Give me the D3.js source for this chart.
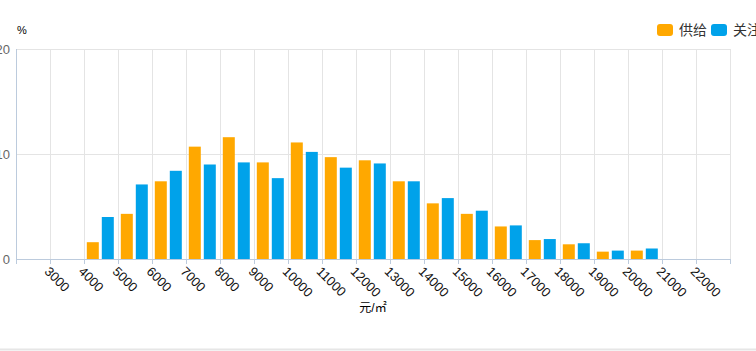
<!DOCTYPE html>
<html>
<head>
<meta charset="utf-8">
<script src="https://cdn.jsdelivr.net/npm/d3@7/dist/d3.min.js"></script>
<style>
  body { margin: 0; background: #fff; }
  svg { display: block; font-family: "Liberation Sans", "Noto Sans CJK SC", sans-serif; }
</style>
</head>
<body>
<div id="chart"></div>
<script>
// price bands (元/㎡); first band has no label
var categories = ["", "3000", "4000", "5000", "6000", "7000", "8000", "9000", "10000", "11000",
    "12000", "13000", "14000", "15000", "16000", "17000", "18000", "19000", "20000", "21000", "22000"];
var supply = [0, 0, 1.6, 4.3, 7.4, 10.7, 11.6, 9.2, 11.1, 9.7,
    9.4, 7.4, 5.3, 4.3, 3.1, 1.8, 1.4, 0.7, 0.8, 0, 0];
var attention = [0, 0, 4.0, 7.1, 8.4, 9.0, 9.2, 7.7, 10.2, 8.7,
    9.1, 7.4, 5.8, 4.6, 3.2, 1.9, 1.5, 0.8, 1.0, 0, 0];
var yTicks = [0, 10, 20];
var seriesNames = ["供给", "关注"];
var colors = ["#ffa800", "#00a2ea"];

var width = 756, height = 351;
var plotLeft = 16, plotRight = 730, plotTop = 49, plotBottom = 259;

var svg = d3.select("#chart")
    .append("svg")
    .attr("width", width)
    .attr("height", height);

var x = d3.scaleBand()
    .domain(categories.map(function (d, i) { return i; }))
    .range([plotLeft, plotRight]);

var y = d3.scaleLinear()
    .domain([0, 20])
    .range([plotBottom, plotTop]);

// grid lines
var bounds = categories.map(function (d, i) { return x(i); }).concat([plotRight]);
svg.append("g").selectAll("line")
    .data(bounds.slice(1))
    .enter().append("line")
    .attr("x1", d => d + 0.5).attr("x2", d => d + 0.5)
    .attr("y1", plotTop).attr("y2", plotBottom)
    .attr("stroke", "#e4e4e4");

svg.append("g").selectAll("line")
    .data(yTicks.slice(1))
    .enter().append("line")
    .attr("x1", plotLeft).attr("x2", plotRight)
    .attr("y1", d => y(d) + 0.5).attr("y2", d => y(d) + 0.5)
    .attr("stroke", "#e4e4e4");

// y axis
svg.append("line")
    .attr("x1", plotLeft + 0.5).attr("x2", plotLeft + 0.5)
    .attr("y1", plotTop).attr("y2", plotBottom)
    .attr("stroke", "#bccbdd");

svg.append("g").selectAll("text")
    .data(yTicks)
    .enter().append("text")
    .attr("x", 10)
    .attr("y", d => y(d))
    .attr("dy", "0.35em")
    .attr("text-anchor", "end")
    .style("font-size", "13px")
    .attr("fill", "#666")
    .text(d => d);

svg.append("text")
    .attr("x", 17).attr("y", 34)
    .style("font-size", "11px")
    .attr("fill", "#000")
    .text("%");

// bars
var barW = 12, gap = 3;
var series = [supply, attention];
series.forEach(function (vals, s) {
    svg.append("g").selectAll("rect")
        .data(vals)
        .enter().append("rect")
        .attr("x", function (d, i) {
            var c = x(i) + x.bandwidth() / 2 - (2 * barW + gap) / 2 - 0.7;
            return c + s * (barW + gap);
        })
        .attr("width", barW)
        .attr("y", d => y(d))
        .attr("height", d => plotBottom - y(d))
        .attr("fill", colors[s]);
});

// x axis
svg.append("line")
    .attr("x1", plotLeft).attr("x2", plotRight)
    .attr("y1", plotBottom + 0.5).attr("y2", plotBottom + 0.5)
    .attr("stroke", "#bccbdd");

svg.append("g").selectAll("line")
    .data(bounds)
    .enter().append("line")
    .attr("x1", d => d + 0.5).attr("x2", d => d + 0.5)
    .attr("y1", plotBottom).attr("y2", plotBottom + 5)
    .attr("stroke", "#bccbdd");

svg.append("g").selectAll("text")
    .data(categories)
    .enter().append("text")
    .attr("transform", function (d, i) {
        return "translate(" + (x(i) - 3) + "," + (plotBottom + 10) + ")rotate(45)";
    })
    .attr("dy", "0.35em")
    .attr("text-anchor", "start")
    .style("font-size", "13px")
    .attr("fill", "#111")
    .text(d => d);

svg.append("text")
    .attr("x", (plotLeft + plotRight) / 2)
    .attr("y", 312)
    .attr("text-anchor", "middle")
    .style("font-size", "12px")
    .attr("fill", "#000")
    .text("元/㎡");

// legend
var legend = svg.append("g").selectAll("g")
    .data(seriesNames)
    .enter().append("g")
    .attr("transform", (d, i) => "translate(" + (657 + i * 54) + ",24)");

legend.append("rect")
    .attr("width", 16).attr("height", 12)
    .attr("rx", 3)
    .attr("fill", (d, i) => colors[i]);

legend.append("text")
    .attr("x", 22).attr("y", 6)
    .attr("dy", "0.35em")
    .style("font-size", "14px")
    .style("font-family", "'Noto Sans CJK SC', sans-serif")
    .attr("fill", "#333")
    .text(d => d);

// bottom border
svg.append("line")
    .attr("x1", 0).attr("x2", width)
    .attr("y1", 349.5).attr("y2", 349.5)
    .attr("stroke", "#e6e6e6")
    .attr("stroke-width", 2);
</script>
</body>
</html>
